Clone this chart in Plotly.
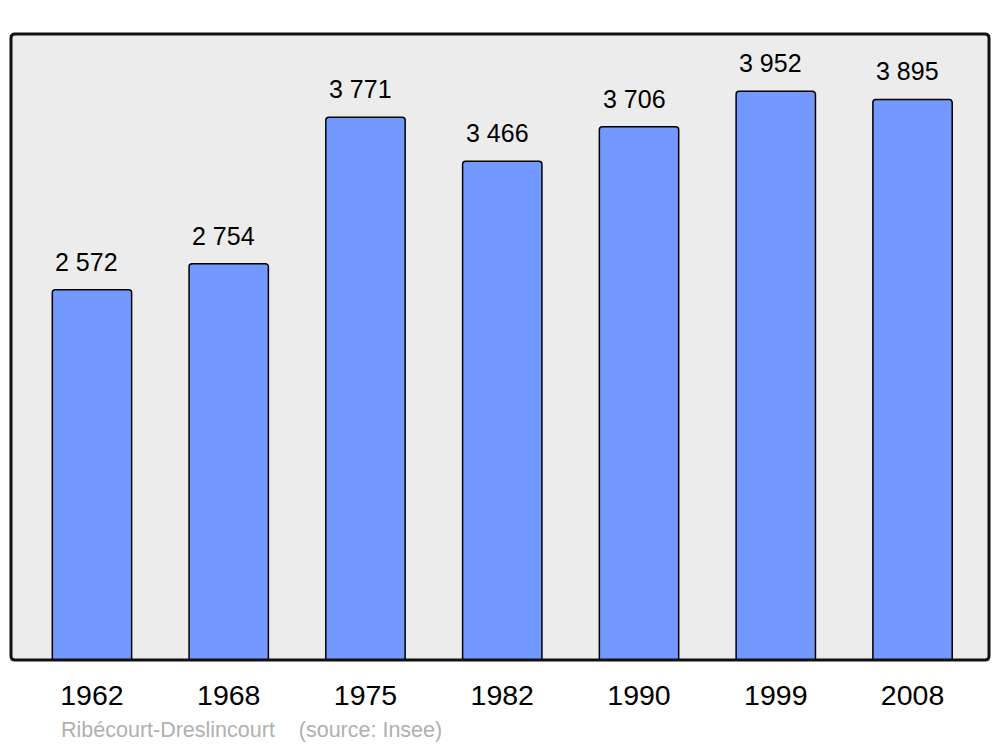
import plotly.graph_objects as go

years = ["1962", "1968", "1975", "1982", "1990", "1999", "2008"]
population = [2572, 2754, 3771, 3466, 3706, 3952, 3895]
value_labels = ["2 572", "2 754", "3 771", "3 466", "3 706", "3 952", "3 895"]
title_text = "Ribécourt-Dreslincourt    (source: Insee)"

xs = list(range(len(years)))
FONT = "Liberation Sans, Arial, sans-serif"

fig = go.Figure()
fig.add_trace(go.Bar(
    x=xs, y=population, width=0.58,
    marker=dict(color="#7399ff", line=dict(color="#000000", width=1.5)),
    hoverinfo="skip",
))

for x, v, t in zip(xs, population, value_labels):
    fig.add_annotation(x=x, y=v, text=t, showarrow=False, yanchor="middle",
                       yshift=28, xshift=-5,
                       font=dict(size=25, color="#000000", family=FONT))

W, H = 978, 626
r = 4
rx, ry = r / W, r / H
path = (f"M {rx},0 L {1-rx},0 Q 1,0 1,{ry} L 1,{1-ry} Q 1,1 {1-rx},1 "
        f"L {rx},1 Q 0,1 0,{1-ry} L 0,{ry} Q 0,0 {rx},0 Z")
fig.add_shape(type="path", xref="paper", yref="paper", path=path,
              line=dict(color="#111111", width=3), layer="above")

fig.add_annotation(xref="paper", yref="paper", x=(59 - 11) / W, y=(660 - 730) / H,
                   xanchor="left", yanchor="middle", text=title_text, showarrow=False,
                   font=dict(size=21.5, color="#b0b0b0", family=FONT))

fig.update_layout(
    width=992, height=739,
    margin=dict(l=3, r=11, t=26, b=87),
    paper_bgcolor="#ffffff", plot_bgcolor="#ececec",
    showlegend=False, barcornerradius=3,
    font=dict(family=FONT, color="#000000"),
)
fig.update_xaxes(range=[-0.592, 6.559], tickvals=xs, ticktext=years,
                 showgrid=False, zeroline=False, showline=False, ticks="",
                 tickfont=dict(size=28.5), ticklabelstandoff=15)
fig.update_yaxes(range=[0, 4350], showgrid=False, zeroline=False,
                 showticklabels=False, showline=False, ticks="")

fig.write_html("out.html")
